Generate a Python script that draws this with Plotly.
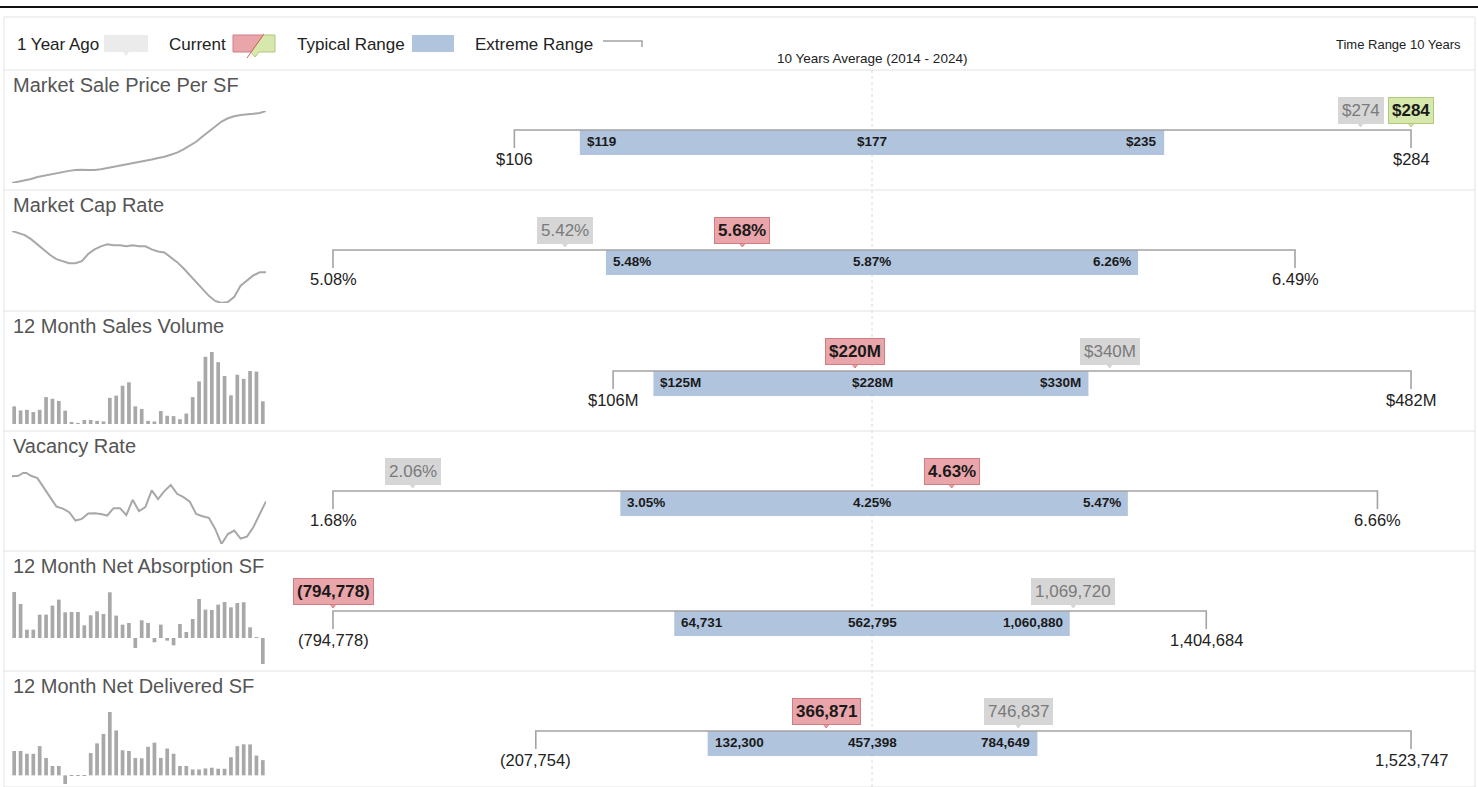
import plotly.graph_objects as go

W, H = 1478, 787

# ---------------- data ----------------
metrics = ["Market Sale Price Per SF", "Market Cap Rate", "12 Month Sales Volume",
           "Vacancy Rate", "12 Month Net Absorption SF", "12 Month Net Delivered SF"]
extreme_low = [106, 5.08, 106, 1.68, -794778, -207754]
typical_low = [119, 5.48, 125, 3.05, 64731, 132300]
average = [177, 5.87, 228, 4.25, 562795, 457398]
typical_high = [235, 6.26, 330, 5.47, 1060880, 784649]
extreme_high = [284, 6.49, 482, 6.66, 1404684, 1523747]
year_ago = [274, 5.42, 340, 2.06, 1069720, 746837]
current = [284, 5.68, 220, 4.63, -794778, 366871]
current_good = [True, False, False, False, False, False]
value_format = ["dollar", "pct", "dollarM", "pct", "comma", "comma"]

spark_price = [106, 109, 113, 116, 121, 124, 128, 131, 134, 136, 138, 139, 138, 138, 140,
               143, 146, 149, 151, 154, 157, 161, 164, 168, 171, 176, 181, 189, 198, 208,
               221, 233, 246, 258, 266, 271, 274, 275, 277, 279, 284]
spark_cap = [6.49, 6.45, 6.41, 6.33, 6.23, 6.13, 6.02, 5.94, 5.90, 5.86, 5.86, 5.90, 6.04,
             6.13, 6.19, 6.23, 6.21, 6.21, 6.19, 6.21, 6.19, 6.19, 6.13, 6.09, 6.07, 5.98,
             5.88, 5.76, 5.62, 5.48, 5.34, 5.22, 5.12, 5.08, 5.10, 5.20, 5.42, 5.52, 5.62,
             5.68, 5.68]
spark_sales = [118, 91, 95, 80, 95, 180, 169, 154, 89, 11, 6, 27, 27, 21, 17, 175, 190, 256,
               279, 118, 101, 21, 17, 87, 55, 53, 32, 70, 180, 285, 450, 482, 414, 321, 192,
               330, 302, 355, 351, 152]
spark_vacancy = [6.36, 6.40, 6.66, 6.40, 6.24, 5.57, 4.92, 4.27, 4.13, 3.88, 3.30, 3.42, 3.79,
                 3.81, 3.76, 3.65, 4.16, 4.16, 3.67, 4.74, 3.95, 4.23, 5.39, 4.78, 5.34, 5.76,
                 5.15, 4.92, 4.60, 3.76, 3.60, 3.49, 2.72, 1.68, 2.37, 2.61, 2.06, 2.19, 2.84,
                 3.72, 4.63]
spark_absorption = [1404684, 1040000, 255000, 255000, 713000, 713000, 988000, 1172000, 785000,
                    795000, 795000, 387000, 693000, 815000, 734000, 1396000, 683000, 408000,
                    459000, -306000, 540000, 459000, -132000, 408000, -82000, -224000, 428000,
                    183000, 581000, 1192000, 866000, 856000, 1019000, 1100000, 937000, 1069720,
                    1090000, 326000, 20000, -794778]
spark_delivered = [586000, 586000, 519000, 519000, 703000, 419000, 226000, 226000, -207754, 8000,
                   8000, 8000, 536000, 770000, 996000, 1523747, 1080000, 603000, 586000, 419000,
                   410000, 687000, 787000, 419000, 645000, 519000, 226000, 226000, 142000, 142000,
                   167000, 184000, 159000, 159000, 435000, 703000, 746837, 745000, 477000, 366871]
sparks = [spark_price, spark_cap, spark_sales, spark_vacancy, spark_absorption, spark_delivered]
spark_kind = ["line", "line", "bar", "line", "bar", "bar"]

legend_labels = ["1 Year Ago", "Current", "Typical Range", "Extreme Range"]
avg_label = "10 Years Average (2014 - 2024)"
time_range_label = "Time Range 10 Years"

# ---------------- style / layout constants ----------------
FONT = "Liberation Sans, Arial, Helvetica, sans-serif"
ROW_TOPS = [70, 190, 311, 431, 551, 671]
ROW_H = 120
RANGE_L, RANGE_R = 280, 1464          # pixel extent of range-chart axes
EXT_HALF_PX = 539                     # pixels used by largest deviation from average
LINE_Y, TICK_Y, BAR_MID, BAR_W = 60, 78, 72.5, 25
TYP_LABEL_Y, EXT_LABEL_Y, BOX_Y, PTR_Y = 71, 89, 40, 51
BLUE = "#b0c4de"
SPARK = "#a8a8a8"
EXT_LINE = "#a3a3a3"
GRAY_BOX, GRAY_TXT = "#d6d6d6", "#7a7a7a"
RED_BOX, RED_BORDER = "#eaa5aa", "#cf7d83"
GREEN_BOX, GREEN_BORDER = "#d7e8ad", "#b2c87c"


def fx(px):
    return px / W


def fy(py):
    return 1 - py / H


def fmt(v, kind):
    if kind == "dollar":
        return f"${v:,.0f}"
    if kind == "pct":
        return f"{v:.2f}%"
    if kind == "dollarM":
        return f"${v:,.0f}M"
    return f"({abs(v):,.0f})" if v < 0 else f"{v:,.0f}"


fig = go.Figure()
layout = dict(width=W, height=H, margin=dict(l=0, r=0, t=0, b=0),
              paper_bgcolor="white", plot_bgcolor="white", showlegend=False,
              font=dict(family=FONT, color="#222"))
annotations = []
shapes = []

hidden = dict(visible=False, showgrid=False, zeroline=False, fixedrange=True)

for i in range(6):
    T = ROW_TOPS[i]
    bottom = min(T + ROW_H, H)
    ks, kr = 2 * i + 1, 2 * i + 2
    xs = "x" if ks == 1 else f"x{ks}"
    ys = "y" if ks == 1 else f"y{ks}"
    xr, yr = f"x{kr}", f"y{kr}"
    kind = value_format[i]

    # ---- sparkline ----
    data = sparks[i]
    n = len(data)
    if spark_kind[i] == "line":
        fig.add_trace(go.Scatter(x=list(range(n)), y=data, mode="lines",
                                 line=dict(color=SPARK, width=2), hoverinfo="skip",
                                 xaxis=xs, yaxis=ys))
        layout["xaxis" if ks == 1 else f"xaxis{ks}"] = dict(hidden, domain=[fx(12), fx(266)],
                                                              range=[0, n - 1])
        layout["yaxis" if ks == 1 else f"yaxis{ks}"] = dict(hidden, domain=[fy(T + 113), fy(T + 41)],
                                                              range=[min(data), max(data)])
    else:
        fig.add_trace(go.Bar(x=list(range(n)), y=data, marker=dict(color=SPARK, line=dict(width=0)),
                             width=0.58, hoverinfo="skip", xaxis=xs, yaxis=ys))
        layout[f"xaxis{ks}"] = dict(hidden, domain=[fx(11), fx(266)], range=[-0.5, n - 0.5])
        layout[f"yaxis{ks}"] = dict(hidden, domain=[fy(T + 113), fy(T + 41)],
                                    range=[min(0, min(data)), max(data)])

    # ---- range chart axes ----
    avg = average[i]
    dev = max(avg - extreme_low[i], extreme_high[i] - avg)
    half = dev * ((RANGE_R - RANGE_L) / 2) / EXT_HALF_PX
    layout[f"xaxis{kr}"] = dict(hidden, domain=[fx(RANGE_L), fx(RANGE_R)],
                                range=[avg - half, avg + half])
    layout[f"yaxis{kr}"] = dict(hidden, domain=[fy(bottom), fy(T)], range=[bottom - T, 0])

    # typical range bar
    fig.add_trace(go.Bar(x=[typical_high[i] - typical_low[i]], base=[typical_low[i]],
                         y=[BAR_MID], width=BAR_W, orientation="h",
                         marker=dict(color=BLUE, line=dict(width=0)), hoverinfo="skip",
                         xaxis=xr, yaxis=yr))
    # extreme range bracket
    fig.add_trace(go.Scatter(x=[extreme_low[i], extreme_low[i], extreme_high[i], extreme_high[i]],
                             y=[TICK_Y, LINE_Y, LINE_Y, TICK_Y], mode="lines",
                             line=dict(color=EXT_LINE, width=1.6), hoverinfo="skip",
                             cliponaxis=False, xaxis=xr, yaxis=yr))

    # callout pointers (1 year ago, current)
    cur_fill = GREEN_BOX if current_good[i] else RED_BOX
    cur_border = GREEN_BORDER if current_good[i] else RED_BORDER
    fig.add_trace(go.Scatter(x=[year_ago[i], current[i]], y=[PTR_Y, PTR_Y], mode="markers",
                             marker=dict(symbol="triangle-down", size=12,
                                         color=[GRAY_BOX, cur_fill],
                                         line=dict(color=[GRAY_BOX, cur_border], width=1)),
                             hoverinfo="skip", cliponaxis=False, xaxis=xr, yaxis=yr))

    # labels
    tl = dict(xref=xr, yref=yr, showarrow=False, y=TYP_LABEL_Y, yanchor="middle",
              font=dict(size=13.5, color="#1a1a1a", family=FONT))
    annotations.append(dict(tl, x=typical_low[i], text=f"<b>{fmt(typical_low[i], kind)}</b>",
                            xanchor="left", xshift=5))
    annotations.append(dict(tl, x=avg, text=f"<b>{fmt(avg, kind)}</b>", xanchor="center"))
    annotations.append(dict(tl, x=typical_high[i], text=f"<b>{fmt(typical_high[i], kind)}</b>",
                            xanchor="right", xshift=-5))
    el = dict(xref=xr, yref=yr, showarrow=False, y=EXT_LABEL_Y, xanchor="center", yanchor="middle",
              font=dict(size=16.5, color="#222", family=FONT))
    annotations.append(dict(el, x=extreme_low[i], text=fmt(extreme_low[i], kind)))
    annotations.append(dict(el, x=extreme_high[i], text=fmt(extreme_high[i], kind)))

    annotations.append(dict(xref=xr, yref=yr, showarrow=False, x=year_ago[i], y=BOX_Y,
                            yanchor="middle", text=fmt(year_ago[i], kind), bgcolor=GRAY_BOX,
                            bordercolor=GRAY_BOX, borderwidth=1, borderpad=3,
                            font=dict(size=17, color=GRAY_TXT, family=FONT)))
    annotations.append(dict(xref=xr, yref=yr, showarrow=False, x=current[i], y=BOX_Y,
                            yanchor="middle", text=f"<b>{fmt(current[i], kind)}</b>",
                            bgcolor=cur_fill, bordercolor=cur_border, borderwidth=1, borderpad=3,
                            font=dict(size=17, color="#1a1a1a", family=FONT)))

    # row title
    annotations.append(dict(xref="paper", yref="paper", x=fx(11), y=fy(T + 15), xanchor="left",
                            yanchor="middle", showarrow=False, text=metrics[i],
                            font=dict(size=20, color="#555", family=FONT)))
    # row separator
    shapes.append(dict(type="line", xref="paper", yref="paper", x0=fx(4), x1=fx(1475),
                       y0=fy(T), y1=fy(T), line=dict(color="#e3e3e3", width=1), layer="below"))

# average marker (dotted line, triangle, label)
shapes.append(dict(type="line", xref="x2", yref="paper", x0=average[0], x1=average[0],
                   y0=0, y1=fy(ROW_TOPS[0]), line=dict(color="#d8d8d8", width=1, dash="dot"),
                   layer="below"))
fig.add_trace(go.Scatter(x=[average[0]], y=[-2.5], mode="markers",
                         marker=dict(symbol="triangle-down", size=10, color="#111"),
                         hoverinfo="skip", cliponaxis=False, xaxis="x2", yaxis="y2"))
annotations.append(dict(xref="x2", yref="paper", x=average[0], y=fy(58), showarrow=False,
                        xanchor="center", yanchor="middle", text=avg_label,
                        font=dict(size=13.5, color="#222", family=FONT)))
annotations.append(dict(xref="paper", yref="paper", x=fx(1463), y=fy(45), xanchor="right",
                        yanchor="middle", showarrow=False, text=time_range_label,
                        font=dict(size=13, color="#222", family=FONT)))

# frame
shapes.append(dict(type="line", xref="paper", yref="paper", x0=0, x1=1, y0=fy(7), y1=fy(7),
                   line=dict(color="#111", width=2)))
shapes.append(dict(type="rect", xref="paper", yref="paper", x0=fx(4), x1=fx(1475),
                   y0=fy(787), y1=fy(17), line=dict(color="#e3e3e3", width=1), layer="below"))


# legend
def path(points):
    return "M" + " L".join(f"{fx(px)},{fy(py)}" for px, py in points) + " Z"


leg_x = [15, 167, 295, 473]
for lx, lab in zip(leg_x, legend_labels):
    annotations.append(dict(xref="paper", yref="paper", x=fx(lx), y=fy(44), xanchor="left",
                            yanchor="middle", showarrow=False, text=lab,
                            font=dict(size=17, color="#222", family=FONT)))
shapes.append(dict(type="path", xref="paper", yref="paper", line=dict(width=0), fillcolor="#ebebeb",
                   path=path([(104, 35), (148, 35), (148, 52), (129, 52), (126, 56), (123, 52),
                              (104, 52)])))
shapes.append(dict(type="path", xref="paper", yref="paper", line=dict(color=RED_BORDER, width=1),
                   fillcolor=RED_BOX, path=path([(233, 35), (263, 35), (251, 52), (233, 52)])))
shapes.append(dict(type="path", xref="paper", yref="paper", line=dict(color=GREEN_BORDER, width=1),
                   fillcolor=GREEN_BOX,
                   path=path([(263, 35), (275, 35), (275, 52), (259, 52), (255, 57), (251, 52)])))
shapes.append(dict(type="line", xref="paper", yref="paper", x0=fx(264), y0=fy(34), x1=fx(247),
                   y1=fy(58), line=dict(color="#d65c64", width=1)))
shapes.append(dict(type="rect", xref="paper", yref="paper", x0=fx(412), x1=fx(454), y0=fy(52),
                   y1=fy(35), line=dict(width=0), fillcolor=BLUE))
shapes.append(dict(type="path", xref="paper", yref="paper", line=dict(color=EXT_LINE, width=1.5),
                   path="M" + f"{fx(603)},{fy(41)} L{fx(642)},{fy(41)} L{fx(642)},{fy(47)}"))

layout["annotations"] = annotations
layout["shapes"] = shapes
fig.update_layout(**layout)
fig.write_html("out.html", config={"displayModeBar": False},
               post_script="document.body.style.margin='0';document.body.style.overflow='hidden';")
